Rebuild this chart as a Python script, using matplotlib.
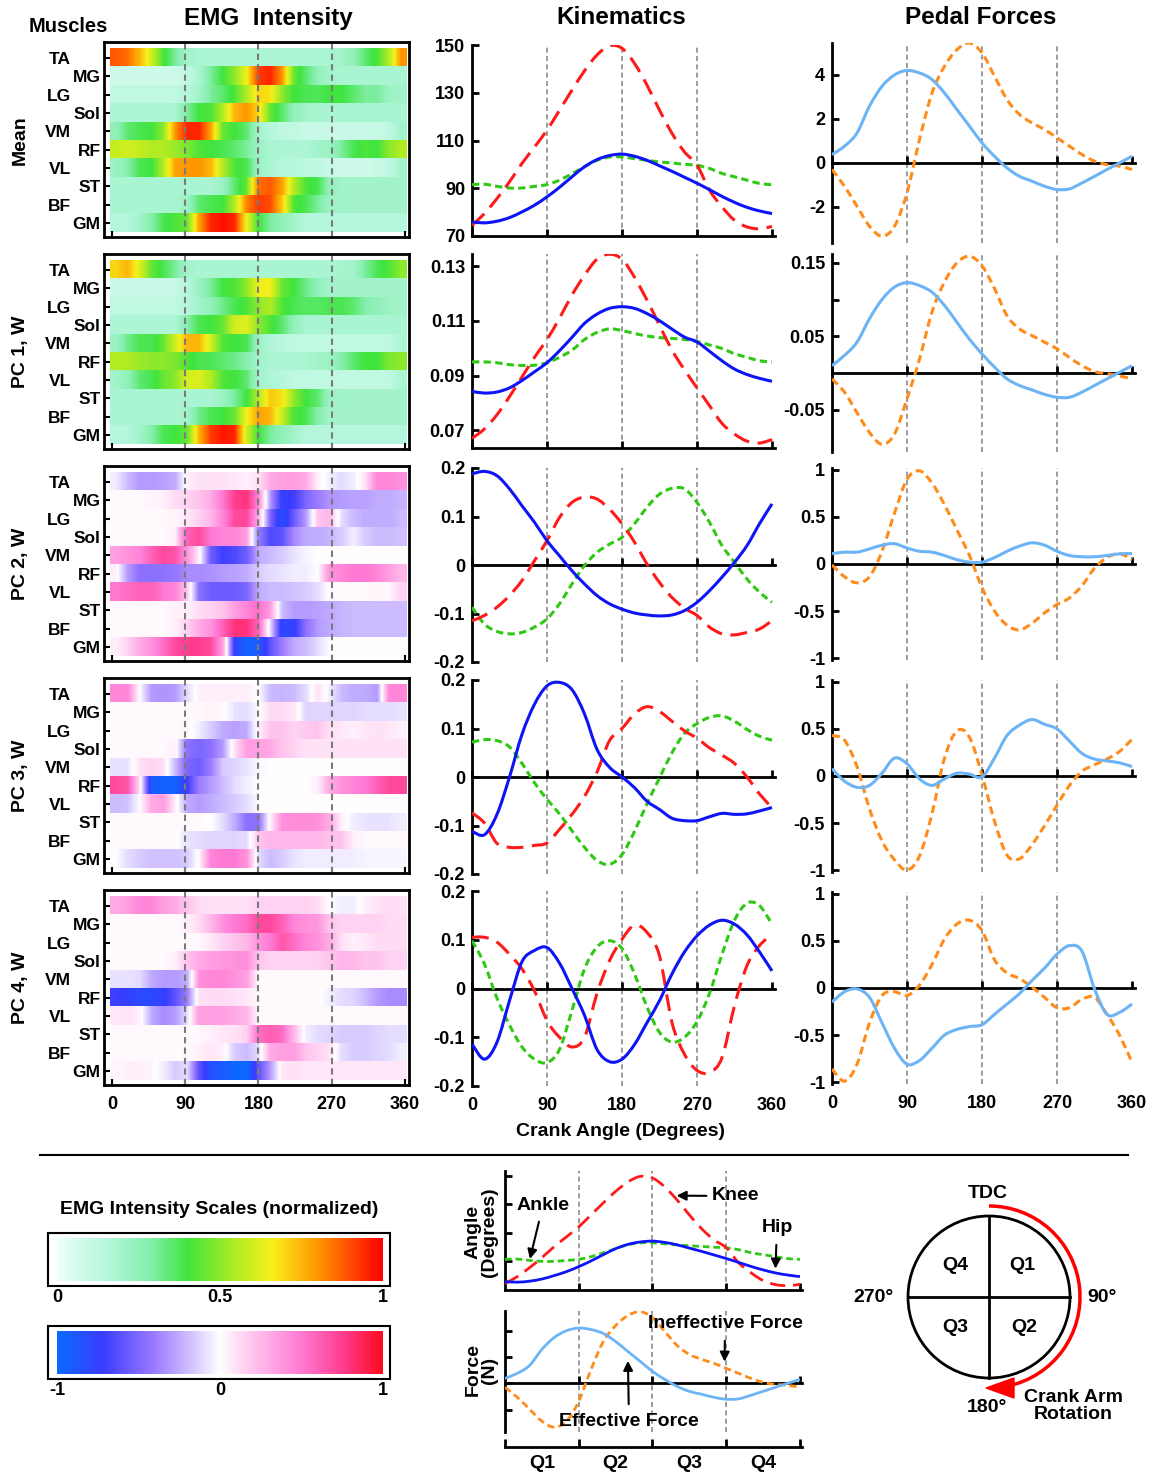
import numpy as np
import matplotlib
matplotlib.use('Agg')
import matplotlib.pyplot as plt
from matplotlib.colors import LinearSegmentedColormap, Normalize
from matplotlib.cm import ScalarMappable
from matplotlib.patches import Circle, Arc, Polygon, Rectangle, PathPatch
from matplotlib.path import Path
from matplotlib.lines import Line2D

plt.rcParams['font.family'] = ['Liberation Sans', 'DejaVu Sans']
plt.rcParams['font.weight'] = 'bold'
plt.rcParams['axes.linewidth'] = 2

# ---------------- data ----------------
crank = [0, 15, 30, 45, 60, 75, 90, 105, 120, 135, 150, 165, 180,
         195, 210, 225, 240, 255, 270, 285, 300, 315, 330, 345, 360]
muscles = ['TA', 'MG', 'LG', 'Sol', 'VM', 'RF', 'VL', 'ST', 'BF', 'GM']
row_names = ['Mean', 'PC 1, W', 'PC 2, W', 'PC 3, W', 'PC 4, W']
quarters = ['Q1', 'Q2', 'Q3', 'Q4']

emg_mean = [
    [0.88, 0.85, 0.75, 0.6, 0.42, 0.3, 0.2, 0.18, 0.17, 0.17, 0.17, 0.17, 0.17, 0.17, 0.17, 0.17, 0.17, 0.17, 0.18, 0.2, 0.25, 0.35, 0.42, 0.55, 0.8],
    [0.08, 0.08, 0.08, 0.08, 0.08, 0.08, 0.12, 0.18, 0.3, 0.4, 0.5, 0.65, 0.92, 0.95, 0.8, 0.45, 0.35, 0.25, 0.2, 0.18, 0.18, 0.18, 0.18, 0.18, 0.18],
    [0.12, 0.12, 0.12, 0.12, 0.12, 0.12, 0.15, 0.2, 0.3, 0.35, 0.42, 0.55, 0.7, 0.68, 0.5, 0.4, 0.38, 0.37, 0.4, 0.4, 0.35, 0.3, 0.3, 0.22, 0.2],
    [0.17, 0.17, 0.17, 0.17, 0.17, 0.18, 0.3, 0.4, 0.42, 0.55, 0.75, 0.8, 0.7, 0.45, 0.35, 0.25, 0.2, 0.18, 0.18, 0.18, 0.18, 0.18, 0.18, 0.18, 0.18],
    [0.25, 0.35, 0.38, 0.4, 0.5, 0.8, 0.95, 0.95, 0.78, 0.45, 0.4, 0.35, 0.2, 0.15, 0.12, 0.12, 0.1, 0.1, 0.1, 0.1, 0.1, 0.1, 0.1, 0.12, 0.2],
    [0.58, 0.6, 0.58, 0.55, 0.55, 0.52, 0.48, 0.42, 0.4, 0.38, 0.35, 0.3, 0.22, 0.18, 0.17, 0.17, 0.17, 0.2, 0.22, 0.3, 0.38, 0.42, 0.4, 0.5, 0.55],
    [0.22, 0.28, 0.38, 0.4, 0.55, 0.78, 0.8, 0.8, 0.75, 0.55, 0.42, 0.38, 0.22, 0.18, 0.15, 0.15, 0.13, 0.12, 0.1, 0.08, 0.08, 0.08, 0.1, 0.12, 0.2],
    [0.18, 0.18, 0.18, 0.18, 0.18, 0.18, 0.18, 0.18, 0.18, 0.22, 0.35, 0.45, 0.85, 0.88, 0.78, 0.55, 0.42, 0.38, 0.25, 0.2, 0.2, 0.2, 0.2, 0.2, 0.2],
    [0.18, 0.18, 0.18, 0.18, 0.18, 0.18, 0.22, 0.35, 0.38, 0.4, 0.55, 0.82, 0.92, 0.9, 0.72, 0.42, 0.38, 0.3, 0.22, 0.2, 0.2, 0.2, 0.2, 0.2, 0.2],
    [0.15, 0.15, 0.2, 0.28, 0.38, 0.42, 0.45, 0.78, 0.95, 0.98, 0.95, 0.65, 0.4, 0.3, 0.25, 0.2, 0.15, 0.15, 0.15, 0.15, 0.15, 0.15, 0.15, 0.15, 0.15],
]
emg_pc1 = [
    [0.7, 0.75, 0.62, 0.45, 0.38, 0.3, 0.2, 0.18, 0.18, 0.18, 0.18, 0.18, 0.18, 0.18, 0.18, 0.18, 0.18, 0.18, 0.18, 0.19, 0.2, 0.3, 0.38, 0.42, 0.5],
    [0.1, 0.1, 0.1, 0.1, 0.1, 0.1, 0.15, 0.22, 0.3, 0.4, 0.42, 0.5, 0.65, 0.65, 0.45, 0.4, 0.32, 0.25, 0.2, 0.2, 0.2, 0.2, 0.2, 0.2, 0.2],
    [0.12, 0.12, 0.12, 0.12, 0.12, 0.12, 0.15, 0.2, 0.25, 0.32, 0.38, 0.42, 0.5, 0.55, 0.42, 0.38, 0.36, 0.36, 0.38, 0.38, 0.35, 0.28, 0.25, 0.22, 0.2],
    [0.17, 0.17, 0.17, 0.17, 0.17, 0.17, 0.28, 0.38, 0.4, 0.45, 0.6, 0.62, 0.5, 0.42, 0.35, 0.25, 0.18, 0.18, 0.18, 0.18, 0.18, 0.18, 0.18, 0.18, 0.18],
    [0.22, 0.32, 0.38, 0.38, 0.45, 0.6, 0.75, 0.75, 0.6, 0.42, 0.4, 0.38, 0.22, 0.16, 0.14, 0.12, 0.12, 0.12, 0.12, 0.12, 0.12, 0.12, 0.12, 0.12, 0.18],
    [0.55, 0.55, 0.52, 0.5, 0.5, 0.48, 0.42, 0.38, 0.38, 0.35, 0.32, 0.28, 0.2, 0.18, 0.17, 0.17, 0.18, 0.2, 0.22, 0.28, 0.35, 0.4, 0.4, 0.48, 0.5],
    [0.2, 0.25, 0.35, 0.38, 0.45, 0.5, 0.6, 0.62, 0.55, 0.42, 0.4, 0.35, 0.2, 0.17, 0.15, 0.12, 0.12, 0.12, 0.12, 0.12, 0.12, 0.12, 0.12, 0.12, 0.18],
    [0.18, 0.18, 0.18, 0.18, 0.18, 0.18, 0.18, 0.18, 0.18, 0.22, 0.3, 0.4, 0.55, 0.72, 0.68, 0.5, 0.4, 0.35, 0.22, 0.2, 0.2, 0.2, 0.2, 0.2, 0.2],
    [0.18, 0.18, 0.18, 0.18, 0.18, 0.18, 0.2, 0.32, 0.38, 0.4, 0.45, 0.65, 0.78, 0.75, 0.58, 0.42, 0.38, 0.28, 0.2, 0.2, 0.2, 0.2, 0.2, 0.2, 0.2],
    [0.15, 0.15, 0.2, 0.28, 0.38, 0.4, 0.45, 0.75, 0.92, 0.97, 0.95, 0.6, 0.4, 0.3, 0.25, 0.2, 0.15, 0.15, 0.15, 0.15, 0.15, 0.15, 0.15, 0.15, 0.15],
]
emg_pc2 = [
    [-0.05, -0.2, -0.3, -0.3, -0.28, -0.25, 0.05, 0.1, 0.1, 0.1, 0.08, 0.05, 0.1, 0.3, 0.35, 0.35, 0.3, 0.05, -0.05, -0.1, -0.05, 0.1, 0.45, 0.45, 0.4],
    [0.02, 0.02, 0.02, 0.03, 0.05, 0.12, 0.15, 0.2, 0.3, 0.5, 0.75, 0.8, 0.45, -0.3, -0.75, -0.7, -0.5, -0.4, -0.32, -0.3, -0.28, -0.28, -0.25, -0.25, -0.22],
    [0.02, 0.02, 0.02, 0.02, 0.02, 0.03, 0.08, 0.15, 0.25, 0.45, 0.7, 0.72, 0.3, -0.5, -0.85, -0.55, -0.3, 0.2, 0.25, -0.1, -0.2, -0.25, -0.25, -0.25, -0.2],
    [0.02, 0.02, 0.02, 0.02, 0.02, 0.05, 0.6, 0.7, 0.5, 0.45, 0.45, 0.35, -0.4, -0.65, -0.6, -0.35, -0.25, -0.25, -0.22, -0.15, -0.05, -0.15, -0.2, -0.2, -0.18],
    [0.35, 0.4, 0.45, 0.6, 0.7, 0.65, 0.4, 0.05, -0.55, -0.7, -0.65, -0.55, -0.25, -0.2, -0.15, -0.08, -0.03, 0, 0, 0, 0, 0, 0, 0, 0],
    [0.05, -0.3, -0.45, -0.45, -0.45, -0.42, -0.35, -0.35, -0.33, -0.3, -0.28, -0.25, -0.15, -0.1, -0.08, -0.05, -0.05, 0, 0.4, 0.45, 0.5, 0.5, 0.45, 0.35, 0.25],
    [0.5, 0.55, 0.6, 0.6, 0.5, 0.45, 0.2, -0.45, -0.55, -0.55, -0.55, -0.5, -0.25, -0.2, -0.2, -0.18, -0.15, -0.1, 0.02, 0.02, 0.02, 0.02, 0.03, 0.03, 0.15],
    [0.02, 0.02, 0.02, 0.02, 0.02, 0.05, 0.05, 0.12, 0.15, 0.2, 0.35, 0.45, 0.55, 0.35, -0.2, -0.3, -0.3, -0.28, -0.25, -0.22, -0.2, -0.2, -0.2, -0.2, -0.2],
    [0.02, 0.02, 0.02, 0.02, 0.02, 0.05, 0.15, 0.3, 0.4, 0.6, 0.8, 0.8, 0.6, -0.1, -0.8, -0.75, -0.45, -0.3, -0.25, -0.22, -0.2, -0.2, -0.2, -0.2, -0.2],
    [0.05, 0.15, 0.3, 0.4, 0.55, 0.7, 0.75, 0.75, 0.7, 0.35, -0.75, -0.95, -0.9, -0.6, -0.4, -0.25, -0.2, -0.1, 0, 0, 0, 0, 0, 0, 0],
]
emg_pc3 = [
    [0.45, 0.45, 0.0, -0.3, -0.32, -0.3, -0.1, 0.05, 0.05, 0.05, 0.05, 0.05, 0.0, -0.2, -0.22, -0.2, -0.1, 0.1, -0.05, -0.2, -0.25, -0.25, -0.3, 0.45, 0.45],
    [0.02, 0.02, 0.02, 0.02, 0.02, 0.02, 0.02, 0.02, 0.03, 0.02, -0.08, -0.1, 0.0, 0.12, 0.12, 0.08, -0.12, -0.12, -0.12, -0.12, -0.12, -0.1, -0.1, -0.1, -0.08],
    [0.02, 0.02, 0.02, 0.02, 0.02, 0.02, 0.03, -0.05, -0.15, -0.25, -0.28, -0.25, 0.05, 0.2, 0.2, 0.15, 0.18, 0.2, 0.1, 0.08, 0.05, 0.08, 0.1, 0.08, 0.05],
    [0.02, 0.02, 0.02, 0.02, 0.02, 0.05, -0.45, -0.5, -0.45, -0.3, 0.1, 0.35, 0.35, 0.3, 0.2, 0.15, 0.1, 0.1, 0.1, 0.1, 0.1, 0.1, 0.1, 0.1, 0.1],
    [-0.08, -0.08, 0.1, 0.15, 0.1, -0.2, -0.5, -0.55, -0.4, -0.15, -0.12, -0.08, -0.02, 0, 0, 0, 0, 0, 0, 0, 0, 0, 0, 0, 0],
    [0.7, 0.65, 0.1, -0.9, -0.95, -0.95, -0.7, -0.4, -0.3, -0.2, -0.1, -0.05, 0, 0, 0, 0, 0, 0.05, 0.3, 0.4, 0.45, 0.5, 0.6, 0.7, 0.7],
    [-0.2, -0.18, 0.0, 0.3, 0.35, 0.05, -0.25, -0.3, -0.25, -0.2, -0.15, -0.1, 0, 0, 0, 0, 0, 0, 0, 0, 0, 0, 0, 0, 0],
    [0.02, 0.02, 0.02, 0.02, 0.02, 0.02, 0.02, 0.02, 0.0, -0.1, -0.25, -0.45, -0.45, 0.05, 0.4, 0.42, 0.42, 0.4, 0.3, 0.05, -0.05, -0.08, -0.08, -0.08, -0.05],
    [0.02, 0.02, 0.02, 0.02, 0.02, 0.02, -0.08, -0.1, -0.12, -0.12, -0.12, -0.1, 0.2, 0.25, 0.25, 0.25, 0.25, 0.25, 0.22, 0.2, 0.05, 0.02, 0.02, 0.02, 0.02],
    [0.0, -0.1, -0.15, -0.18, -0.18, -0.18, -0.15, 0.02, 0.45, 0.5, 0.5, 0.4, -0.1, -0.2, -0.15, -0.08, -0.05, -0.05, -0.05, -0.05, -0.05, -0.03, -0.03, -0.03, -0.03],
]
emg_pc4 = [
    [0.3, 0.35, 0.45, 0.45, 0.35, 0.3, 0.2, 0.12, 0.1, 0.1, 0.1, 0.1, 0.15, 0.15, 0.15, 0.15, 0.15, 0.12, 0.0, -0.05, -0.05, 0.05, 0.1, 0.12, 0.1],
    [0.02, 0.02, 0.02, 0.02, 0.02, 0.02, 0.05, 0.12, 0.25, 0.4, 0.5, 0.55, 0.7, 0.7, 0.6, 0.45, 0.4, 0.38, 0.2, 0.15, 0.15, 0.15, 0.15, 0.12, 0.12],
    [0.02, 0.02, 0.02, 0.02, 0.02, 0.02, 0.02, 0.02, 0.08, 0.15, 0.2, 0.25, 0.4, 0.5, 0.65, 0.55, 0.45, 0.4, 0.3, 0.1, 0.05, 0.08, 0.12, 0.12, 0.12],
    [0.02, 0.02, 0.02, 0.02, 0.02, 0.05, 0.2, 0.3, 0.35, 0.38, 0.4, 0.42, 0.2, 0.15, 0.15, 0.15, 0.15, 0.15, 0.2, 0.25, 0.25, 0.2, 0.2, 0.15, 0.15],
    [-0.08, -0.08, -0.1, -0.25, -0.3, -0.3, -0.25, 0.4, 0.45, 0.45, 0.4, 0.35, 0.02, 0.02, 0.02, 0.02, 0.02, 0.02, 0.02, 0.02, 0.02, 0.02, 0.02, 0.02, 0.02],
    [-0.7, -0.75, -0.8, -0.8, -0.75, -0.6, -0.4, 0.1, 0.12, 0.12, 0.1, 0.08, 0.02, 0.02, 0.02, 0.02, 0.02, 0.02, -0.05, -0.1, -0.12, -0.2, -0.3, -0.35, -0.35],
    [0.08, 0.1, 0.05, -0.25, -0.35, -0.3, -0.1, 0.35, 0.35, 0.35, 0.3, 0.25, 0.02, 0.02, 0.02, 0.02, 0.02, 0.02, 0.02, 0.02, 0.02, 0.02, 0.02, 0.02, 0.02],
    [0.02, 0.02, 0.02, 0.02, 0.02, 0.02, 0.02, 0.02, 0.05, 0.08, 0.1, 0.15, 0.55, 0.62, 0.55, 0.25, -0.05, -0.1, -0.12, -0.15, -0.15, -0.15, -0.12, -0.1, -0.1],
    [0.02, 0.02, 0.02, 0.02, 0.02, 0.02, 0.02, 0.05, 0.08, 0.05, -0.15, -0.2, -0.1, 0.3, 0.35, 0.35, 0.2, 0.15, 0.1, -0.1, -0.15, -0.15, -0.12, -0.1, -0.05],
    [0.03, 0.05, 0.05, 0.03, -0.05, -0.15, -0.1, -0.6, -0.85, -0.9, -0.97, -1.0, -0.6, -0.3, 0.08, 0.1, 0.08, 0.08, 0.08, 0.08, 0.08, 0.08, 0.08, 0.08, 0.08],
]

# kinematics (hip solid blue, knee long-dash red, ankle short-dash green)
hip_mean = [75.9, 75.5, 76.2, 77.7, 80.1, 82.9, 86.4, 90.4, 94.8, 99, 102, 103.7, 104.3, 103.4, 101.7, 99.4, 97.1, 94.6, 92.1, 89.4, 86.6, 84.1, 82, 80.5, 79.4]
knee_mean = [74.5, 79.4, 85.7, 92.7, 100.4, 107.3, 114.3, 122.7, 131.1, 139.2, 145.8, 149.7, 148.6, 142.3, 133.2, 122.7, 113, 105.2, 99.7, 89.2, 82.2, 76.6, 73.8, 73, 74]
ankle_mean = [91.5, 91.7, 90.8, 90.1, 90.1, 90.8, 91.5, 93.4, 96.1, 99, 101.7, 103.1, 103.1, 102.4, 101.7, 101, 100.6, 100, 99.6, 98.3, 96.2, 94.8, 93.4, 92, 91.5]
hip_pc1 = [0.0842, 0.0836, 0.084, 0.0855, 0.0882, 0.0914, 0.0947, 0.0991, 0.104, 0.1091, 0.1125, 0.1146, 0.1152, 0.1146, 0.1127, 0.1101, 0.107, 0.1041, 0.1023, 0.0989, 0.0954, 0.0924, 0.0904, 0.089, 0.0879]
knee_pc1 = [0.067, 0.0705, 0.0757, 0.0823, 0.0895, 0.0967, 0.1032, 0.111, 0.1195, 0.1267, 0.1326, 0.1344, 0.1326, 0.126, 0.1176, 0.1084, 0.0993, 0.0921, 0.0855, 0.079, 0.0725, 0.0686, 0.066, 0.0653, 0.0666]
ankle_pc1 = [0.095, 0.095, 0.0947, 0.094, 0.0937, 0.0938, 0.0947, 0.0967, 0.0993, 0.1032, 0.1058, 0.1071, 0.1065, 0.1054, 0.1045, 0.1039, 0.1036, 0.1032, 0.1025, 0.1012, 0.0999, 0.098, 0.0967, 0.0954, 0.095]
hip_pc2 = [0.188, 0.193, 0.184, 0.157, 0.122, 0.088, 0.05, 0.019, -0.012, -0.039, -0.063, -0.08, -0.091, -0.099, -0.103, -0.105, -0.103, -0.094, -0.077, -0.053, -0.025, 0.0055, 0.04, 0.085, 0.126]
knee_pc2 = [-0.115, -0.104, -0.087, -0.063, -0.032, 0.009, 0.05, 0.098, 0.129, 0.14, 0.136, 0.115, 0.085, 0.047, 0.002, -0.036, -0.067, -0.089, -0.104, -0.128, -0.142, -0.144, -0.139, -0.132, -0.115]
ankle_pc2 = [-0.087, -0.122, -0.137, -0.142, -0.139, -0.128, -0.111, -0.08, -0.039, -0.001, 0.026, 0.043, 0.057, 0.085, 0.119, 0.146, 0.158, 0.157, 0.129, 0.088, 0.04, 0.0055, -0.029, -0.056, -0.077]
hip_pc3 = [-0.112, -0.119, -0.077, 0.0, 0.088, 0.15, 0.188, 0.195, 0.18, 0.13, 0.057, 0.02, 0.0, -0.022, -0.05, -0.067, -0.085, -0.09, -0.09, -0.082, -0.075, -0.077, -0.076, -0.07, -0.063]
knee_pc3 = [-0.074, -0.095, -0.137, -0.145, -0.145, -0.141, -0.136, -0.108, -0.077, -0.04, 0.01, 0.075, 0.1, 0.13, 0.145, 0.135, 0.115, 0.095, 0.08, 0.06, 0.045, 0.028, 0.0, -0.035, -0.063]
ankle_pc3 = [0.072, 0.077, 0.075, 0.062, 0.028, -0.012, -0.046, -0.076, -0.111, -0.145, -0.172, -0.18, -0.16, -0.112, -0.055, -0.002, 0.05, 0.09, 0.11, 0.123, 0.126, 0.115, 0.098, 0.084, 0.076]
hip_pc4 = [-0.114, -0.145, -0.11, -0.025, 0.055, 0.078, 0.084, 0.052, 0.0, -0.055, -0.125, -0.15, -0.145, -0.115, -0.07, -0.025, 0.03, 0.075, 0.108, 0.13, 0.14, 0.132, 0.11, 0.075, 0.036]
knee_pc4 = [0.105, 0.105, 0.095, 0.07, 0.04, -0.005, -0.066, -0.1, -0.12, -0.1, -0.01, 0.057, 0.101, 0.13, 0.115, 0.067, -0.07, -0.135, -0.168, -0.172, -0.142, -0.035, 0.047, 0.088, 0.111]
ankle_pc4 = [0.098, 0.05, -0.02, -0.075, -0.12, -0.145, -0.152, -0.125, -0.045, 0.04, 0.085, 0.098, 0.082, 0.03, -0.038, -0.09, -0.11, -0.1, -0.068, -0.01, 0.07, 0.14, 0.175, 0.17, 0.132]

# pedal forces (effective solid light blue, ineffective dashed orange)
eff_mean = [0.38, 0.76, 1.36, 2.58, 3.48, 4.0, 4.2, 4.09, 3.79, 3.18, 2.42, 1.67, 0.91, 0.3, -0.23, -0.61, -0.83, -1.06, -1.21, -1.18, -0.91, -0.61, -0.3, 0.0, 0.3]
ineff_mean = [-0.3, -1.06, -1.97, -2.88, -3.33, -2.88, -1.36, 1.06, 3.18, 4.39, 5.15, 5.45, 5.0, 3.94, 2.88, 2.2, 1.82, 1.52, 1.14, 0.76, 0.38, 0.08, -0.08, -0.15, -0.3]
eff_pc1 = [0.01, 0.024, 0.042, 0.074, 0.1, 0.117, 0.123, 0.119, 0.11, 0.092, 0.069, 0.046, 0.026, 0.008, -0.008, -0.017, -0.023, -0.029, -0.033, -0.033, -0.026, -0.017, -0.008, 0.001, 0.01]
ineff_pc1 = [-0.008, -0.026, -0.054, -0.081, -0.097, -0.083, -0.035, 0.019, 0.083, 0.124, 0.15, 0.159, 0.146, 0.115, 0.078, 0.06, 0.051, 0.042, 0.033, 0.021, 0.01, 0.002, -0.001, -0.004, -0.008]
eff_pc2 = [0.11, 0.126, 0.126, 0.16, 0.2, 0.216, 0.17, 0.135, 0.126, 0.09, 0.045, 0.02, 0.02, 0.068, 0.135, 0.19, 0.225, 0.2, 0.135, 0.09, 0.077, 0.077, 0.09, 0.108, 0.11]
ineff_pc2 = [-0.01, -0.135, -0.2, -0.135, 0.135, 0.54, 0.9, 0.99, 0.86, 0.63, 0.36, 0.09, -0.25, -0.5, -0.65, -0.7, -0.63, -0.52, -0.43, -0.36, -0.23, -0.045, 0.068, 0.11, 0.045]
eff_pc3 = [0.077, -0.055, -0.12, -0.1, 0.03, 0.19, 0.13, -0.03, -0.1, -0.03, 0.03, 0.02, -0.01, 0.19, 0.43, 0.54, 0.6, 0.55, 0.5, 0.37, 0.24, 0.18, 0.16, 0.14, 0.1]
ineff_pc3 = [0.43, 0.38, 0.1, -0.35, -0.69, -0.89, -1.0, -0.85, -0.4, 0.19, 0.48, 0.41, 0.01, -0.48, -0.84, -0.88, -0.73, -0.53, -0.31, -0.1, 0.05, 0.12, 0.18, 0.26, 0.39]
eff_pc4 = [-0.15, -0.04, -0.01, -0.1, -0.37, -0.64, -0.81, -0.77, -0.64, -0.5, -0.44, -0.41, -0.39, -0.28, -0.17, -0.06, 0.08, 0.21, 0.36, 0.45, 0.39, -0.01, -0.28, -0.26, -0.17]
ineff_pc4 = [-0.86, -0.99, -0.81, -0.37, -0.08, -0.04, -0.08, 0.03, 0.25, 0.52, 0.68, 0.72, 0.61, 0.3, 0.16, 0.1, 0.01, -0.1, -0.21, -0.21, -0.12, -0.1, -0.28, -0.5, -0.79]

emg_rows = [emg_mean, emg_pc1, emg_pc2, emg_pc3, emg_pc4]
kin_rows = [(hip_mean, knee_mean, ankle_mean), (hip_pc1, knee_pc1, ankle_pc1),
            (hip_pc2, knee_pc2, ankle_pc2), (hip_pc3, knee_pc3, ankle_pc3),
            (hip_pc4, knee_pc4, ankle_pc4)]
ped_rows = [(eff_mean, ineff_mean), (eff_pc1, ineff_pc1), (eff_pc2, ineff_pc2),
            (eff_pc3, ineff_pc3), (eff_pc4, ineff_pc4)]

# ---------------- styles ----------------
W, H = 1156, 1473
fig = plt.figure(figsize=(W / 100, H / 100), dpi=100)

cmap_emg = LinearSegmentedColormap.from_list('emg', [
    (0.0, '#ecfffa'), (0.15, '#b4f7dc'), (0.28, '#86efae'), (0.4, '#3fe43f'),
    (0.55, '#b2ec22'), (0.66, '#f6f01c'), (0.8, '#ff9600'), (1.0, '#ff0000')])
cmap_pc = LinearSegmentedColormap.from_list('pc', [
    (0.0, '#0a6aff'), (0.14, '#3a3cff'), (0.3, '#9c7cff'), (0.42, '#d6c8ff'),
    (0.5, '#ffffff'), (0.6, '#ffc4ee'), (0.75, '#ff7ad4'), (0.88, '#ff3c8e'), (1.0, '#ff0a1e')])

C_HIP, C_KNEE, C_ANK = '#0d14f5', '#ff1a1a', '#2fc814'
C_EFF, C_INEFF = '#6cb4f5', '#ff8c1a'
GRID = dict(color='#8a8a8a', lw=1.2, ls=(0, (3, 2)), zorder=1)
TICKS_X = [0, 90, 180, 270, 360]
XLABELS = ['0', '90', '180', '270', '360']


def px_axes(x0, y0, x1, y1):
    return fig.add_axes([x0 / W, 1 - y1 / H, (x1 - x0) / W, (y1 - y0) / H])


def ftext(x, y, s, **kw):
    fig.text(x / W, 1 - y / H, s, **kw)


def curve(ax, x, y, **kw):
    # smooth cubic path through the read points (Catmull-Rom style handles)
    n = len(x)
    verts = [(x[0], y[0])]
    codes = [Path.MOVETO]
    for i in range(n - 1):
        xa, ya = (x[i - 1], y[i - 1]) if i > 0 else (x[i], y[i])
        xd, yd = (x[i + 2], y[i + 2]) if i + 2 < n else (x[i + 1], y[i + 1])
        verts += [(x[i] + (x[i + 1] - xa) / 6, y[i] + (y[i + 1] - ya) / 6),
                  (x[i + 1] - (xd - x[i]) / 6, y[i + 1] - (yd - y[i]) / 6),
                  (x[i + 1], y[i + 1])]
        codes += [Path.CURVE4] * 3
    ax.add_patch(PathPatch(Path(verts, codes), fill=False, **kw))


def bottom_labels(ax):
    sec = ax.secondary_xaxis('bottom')
    sec.set_xticks(TICKS_X)
    sec.set_xticklabels(XLABELS)
    sec.tick_params(length=0, pad=8, labelsize=13)
    sec.spines['bottom'].set_visible(False)


def kin_lines(ax, hip, knee, ank, lw=2.2):
    curve(ax, crank, ank, ec=C_ANK, lw=lw, ls=(0, (2.4, 1.4)), zorder=3)
    curve(ax, crank, knee, ec=C_KNEE, lw=lw, ls=(0, (5.5, 2.8)), zorder=3)
    curve(ax, crank, hip, ec=C_HIP, lw=lw, zorder=4)


def ped_lines(ax, eff, ineff, lw=2.2):
    curve(ax, crank, ineff, ec=C_INEFF, lw=lw, ls=(0, (2.6, 1.5)), zorder=3)
    curve(ax, crank, eff, ec=C_EFF, lw=lw, zorder=4)


# ---------------- EMG heatmaps ----------------
for k in range(5):
    ax = px_axes(104, 42 + 212 * k, 409, 237 + 212 * k)
    pc = k >= 2
    for i, r in enumerate(emg_rows[k]):
        ax.imshow([r], extent=(-2.5, 361.5, i + 0.5, i - 0.5),
                  cmap=cmap_pc if pc else cmap_emg,
                  vmin=-1 if pc else 0, vmax=1,
                  interpolation='bilinear', aspect='auto', zorder=0)
    for v in (90, 180, 270):
        ax.axvline(v, color='#7a7a7a', lw=1.5, ls=(0, (3, 2)), zorder=2)
    ax.set_xlim(-9.8, 365)
    ax.set_ylim(9.76, -0.87)
    ax.set_yticks(range(len(muscles)))
    ax.set_yticklabels(muscles, fontsize=12.5)
    ax.set_xticks(TICKS_X)
    ax.tick_params(direction='in', length=4, width=1.5)
    for i, t in enumerate(ax.yaxis.get_major_ticks()):
        t.set_pad(24 if i % 2 == 0 else 2.5)
    if k == 4:
        ax.set_xticklabels(XLABELS, fontsize=13)
        ax.tick_params(axis='x', pad=8)
    else:
        ax.set_xticklabels([])
    ftext(20, 140 + 212 * k, row_names[k], rotation=90, ha='center', va='center', fontsize=14)

# ---------------- kinematics ----------------
kin_boxes = [(45, 236, (70, 150)), (254, 448, (0.0635, 0.1345)),
             (468, 662, (-0.2, 0.2)), (680, 874, (-0.2, 0.2)), (891, 1086, (-0.2, 0.2))]
kin_yt = [([150, 130, 110, 90, 70], ['150', '130', '110', '90', '70']),
          ([0.13, 0.11, 0.09, 0.07], ['0.13', '0.11', '0.09', '0.07'])] + \
         [([0.2, 0.1, 0, -0.1, -0.2], ['0.2', '0.1', '0', '-0.1', '-0.2'])] * 3
for k in range(5):
    top, bot, yl = kin_boxes[k]
    ax = px_axes(472, top, 774.5, bot)
    hip, knee, ank = kin_rows[k]
    kin_lines(ax, hip, knee, ank)
    for v in (90, 180, 270):
        ax.axvline(v, **GRID)
    ax.set_xlim(0, 363)
    ax.set_ylim(*yl)
    ax.spines[['top', 'right']].set_visible(False)
    if k >= 2:
        ax.spines['bottom'].set_position(('data', 0))
    ax.set_yticks(kin_yt[k][0])
    ax.set_yticklabels(kin_yt[k][1], fontsize=13)
    ax.set_xticks(TICKS_X)
    ax.set_xticklabels([])
    ax.tick_params(direction='in', length=5, width=2, pad=5)
    if k == 4:
        bottom_labels(ax)

# ---------------- pedal forces ----------------
ped_boxes = [(43, 243, (-3.64, 5.45)), (254, 452, (-0.1075, 0.162)),
             (468, 660, (-1.02, 1.02)), (680, 872, (-1.02, 1.02)), (892, 1084, (-1.02, 1.02))]
ped_yt = [([4, 2, 0, -2], ['4', '2', '0', '-2']),
          ([0.15, 0.1, 0.05, -0.05], ['0.15', '', '0.05', '-0.05'])] + \
         [([1, 0.5, 0, -0.5, -1], ['1', '0.5', '0', '-0.5', '-1'])] * 3
for k in range(5):
    top, bot, yl = ped_boxes[k]
    ax = px_axes(832, top, 1134.5, bot)
    eff, ineff = ped_rows[k]
    ped_lines(ax, eff, ineff)
    for v in (90, 180, 270):
        ax.axvline(v, **GRID)
    ax.set_xlim(0, 363)
    ax.set_ylim(*yl)
    ax.spines[['top', 'right']].set_visible(False)
    ax.spines['bottom'].set_position(('data', 0))
    ax.set_yticks(ped_yt[k][0])
    ax.set_yticklabels(ped_yt[k][1], fontsize=13)
    ax.set_xticks(TICKS_X)
    ax.set_xticklabels([])
    ax.tick_params(direction='in', length=5, width=2, pad=5)
    if k == 4:
        bottom_labels(ax)

# ---------------- titles ----------------
ftext(68, 27, 'Muscles', ha='center', va='center', fontsize=14.5)
ftext(268, 18, 'EMG  Intensity', ha='center', va='center', fontsize=17.5)
ftext(621, 18, 'Kinematics', ha='center', va='center', fontsize=17.5)
ftext(981, 18, 'Pedal Forces', ha='center', va='center', fontsize=17.5)
ftext(621, 1131, 'Crank Angle (Degrees)', ha='center', va='center', fontsize=14)

fig.add_artist(Line2D([40 / W, 1128 / W], [1 - 1155 / H, 1 - 1155 / H], color='black', lw=1.5))

# ---------------- colour scale legend ----------------
ftext(219, 1210, 'EMG Intensity Scales (normalized)', ha='center', va='center', fontsize=14)
for cm, y0, labs in [(cmap_emg, 1233, ['0', '0.5', '1']), (cmap_pc, 1326, ['-1', '0', '1'])]:
    fig.add_artist(Rectangle((48 / W, 1 - (y0 + 53) / H), (390 - 48) / W, 53 / H,
                             transform=fig.transFigure, fill=False, lw=1.5, ec='black'))
    cax = px_axes(57, y0 + 5, 383, y0 + 48)
    cb = fig.colorbar(ScalarMappable(norm=Normalize(0, 1), cmap=cm), cax=cax, orientation='horizontal')
    cb.outline.set_visible(False)
    cax.set_xticks([])
    for xf, s in zip([0, 0.5, 1], labs):
        cax.text(xf, -0.18, s, transform=cax.transAxes, ha='center', va='top', fontsize=13)

# ---------------- schematic angle / force ----------------
ax = px_axes(505, 1171, 801.6, 1290)
kin_lines(ax, hip_mean, knee_mean, ankle_mean, lw=2)
for v in (90, 180, 270):
    ax.axvline(v, **GRID)
ax.set_xlim(0, 362)
ax.set_ylim(70, 153.5)
ax.spines[['top', 'right']].set_visible(False)
ax.set_yticks([90, 110, 130, 150])
ax.set_yticklabels([])
ax.set_xticks([90, 180, 270, 360])
ax.set_xticklabels([])
ax.tick_params(direction='in', length=5, width=2)
ax.annotate('Ankle', xy=(crank[2], ankle_mean[2]), xytext=(543, H - 1205), textcoords='figure pixels',
            ha='center', va='center', fontsize=14,
            arrowprops=dict(arrowstyle='-|>', color='black', lw=1.5, shrinkA=4, shrinkB=1))
ax.annotate('Knee', xy=(crank[14] - 4, knee_mean[14] + 3), xytext=(712, H - 1196), textcoords='figure pixels',
            ha='left', va='center', fontsize=14,
            arrowprops=dict(arrowstyle='-|>', color='black', lw=1.5, shrinkA=2, shrinkB=2))
ax.annotate('Hip', xy=(crank[22], hip_mean[22] + 2), xytext=(777, H - 1228), textcoords='figure pixels',
            ha='center', va='center', fontsize=14,
            arrowprops=dict(arrowstyle='-|>', color='black', lw=1.5, shrinkA=4, shrinkB=1))
ftext(481, 1232, 'Angle\n(Degrees)', rotation=90, ha='center', va='center', fontsize=14, linespacing=0.95)

ax = px_axes(505, 1311, 801.6, 1432)
ped_lines(ax, eff_mean, ineff_mean, lw=2)
for v in (90, 180, 270):
    ax.axvline(v, **GRID)
ax.set_xlim(0, 362)
ax.set_ylim(-3.7, 5.5)
ax.spines[['top', 'right']].set_visible(False)
ax.spines['bottom'].set_position(('data', 0))
ax.set_yticks([4, 2, 0, -2])
ax.set_yticklabels([])
ax.set_xticks([90, 180, 270, 360])
ax.set_xticklabels([])
ax.tick_params(direction='in', length=5, width=2)
ax.annotate('Ineffective Force', xy=(crank[18] - 2, ineff_mean[18] + 0.4), xytext=(725, H - 1324),
            textcoords='figure pixels', ha='center', va='center', fontsize=14,
            arrowprops=dict(arrowstyle='-|>', color='black', lw=1.5, shrinkA=4, shrinkB=1))
ax.annotate('Effective Force', xy=(crank[10], eff_mean[10] - 0.6), xytext=(629, H - 1421),
            textcoords='figure pixels', ha='center', va='center', fontsize=14,
            arrowprops=dict(arrowstyle='-|>', color='black', lw=1.5, shrinkA=4, shrinkB=1))
ftext(481, 1370, 'Force\n(N)', rotation=90, ha='center', va='center', fontsize=14, linespacing=0.95)

ax = px_axes(505, 1437, 801.6, 1447)
ax.set_xlim(0, 362)
ax.spines[['top', 'right', 'left']].set_visible(False)
ax.set_yticks([])
ax.set_xticks(TICKS_X)
ax.set_xticklabels([])
ax.set_xticks([45, 135, 225, 315], minor=True)
ax.set_xticklabels(quarters, minor=True, fontsize=14)
ax.tick_params(which='major', direction='in', length=6, width=2)
ax.tick_params(which='minor', length=0, pad=6)
ax.patch.set_alpha(0)

# ---------------- crank diagram ----------------
ax = px_axes(840, 1170, 1156, 1440)
ax.set_xlim(840, 1156)
ax.set_ylim(H - 1440, H - 1170)
ax.axis('off')
cx, cy, r = 989, H - 1297, 81
ax.add_patch(Circle((cx, cy), r, fill=False, lw=2, ec='black'))
ax.plot([cx, cx], [cy - r, cy + r], color='black', lw=2)
ax.plot([cx - r, cx + r], [cy, cy], color='black', lw=2)
ax.add_patch(Arc((cx, cy), 182, 182, theta1=-78, theta2=90, color='#ff0000', lw=2.5))
ax.add_patch(Polygon([(986, H - 1388), (1014, H - 1378), (1014, H - 1398)], closed=True, color='#ff0000'))
for (qx, qy), q in zip([(1022, 1265), (1024, 1327), (955, 1327), (955, 1265)], quarters):
    ax.text(qx, H - qy, q, ha='center', va='center', fontsize=14)
ax.text(988, H - 1193, 'TDC', ha='center', va='center', fontsize=14)
ax.text(1102, H - 1297, '90°', ha='center', va='center', fontsize=14)
ax.text(874, H - 1297, '270°', ha='center', va='center', fontsize=14)
ax.text(987, H - 1407, '180°', ha='center', va='center', fontsize=14)
ax.text(1073, H - 1406, 'Crank Arm\nRotation', ha='center', va='center', fontsize=14, linespacing=1.0)

fig.savefig('out.png', dpi=100)
